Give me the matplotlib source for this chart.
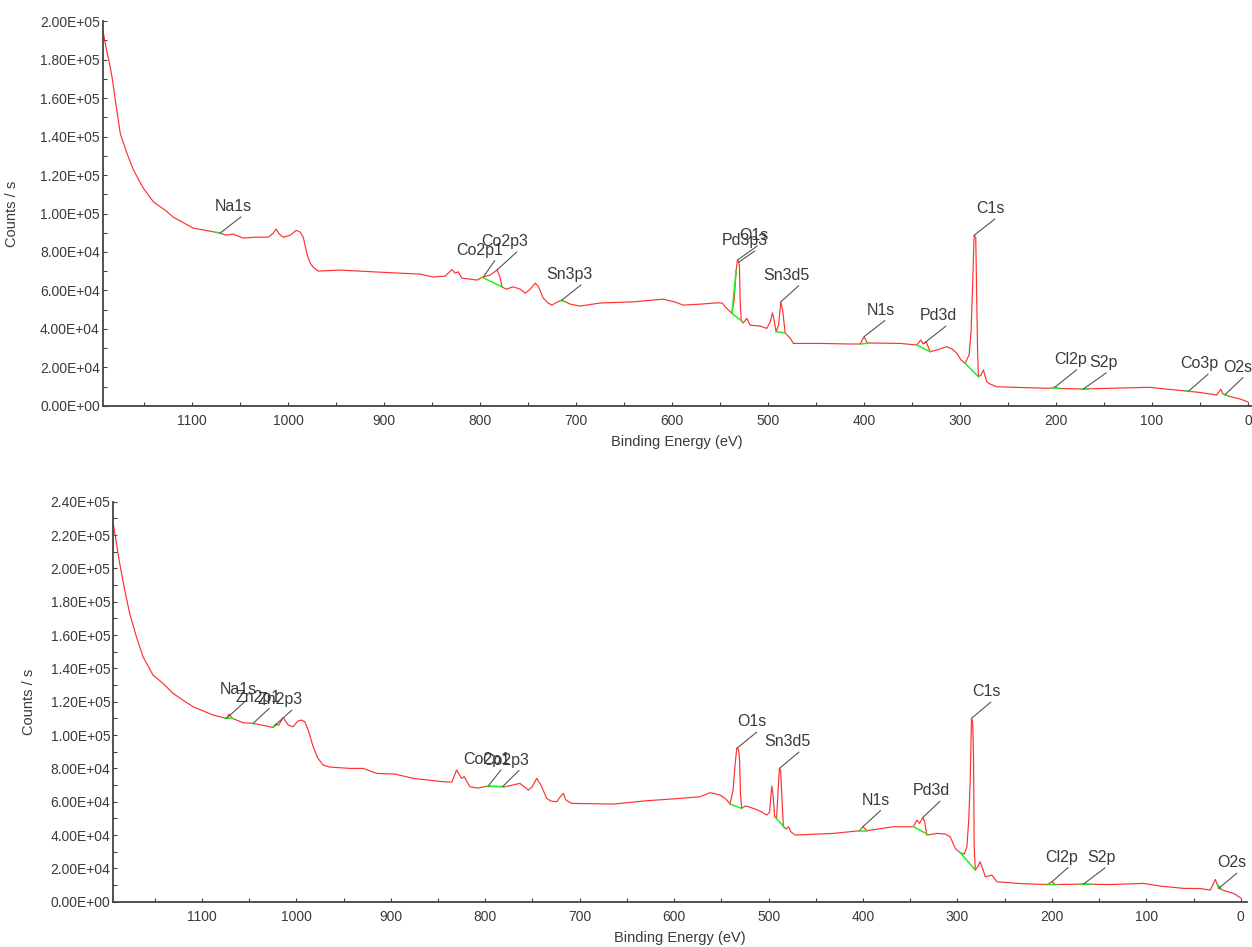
import numpy as np
import matplotlib
matplotlib.use("Agg")
import matplotlib.pyplot as plt
from matplotlib.ticker import MultipleLocator, FuncFormatter

plt.rcParams['font.family'] = ['Liberation Sans', 'DejaVu Sans']

# ---- spectrum 1 (top) : binding energy (eV) / counts per second ----
be_top = [1193.0, 1190.6, 1187.1, 1183.6, 1180.2, 1175.0, 1168.0, 1161.2, 1150.8, 1140.4,
          1128.2, 1119.8, 1099.0, 1081.3, 1070.9, 1064.6, 1057.3, 1046.9, 1034.4, 1020.9,
          1015.7, 1012.5, 1009.4, 1005.2, 997.9, 991.7, 987.5, 984.4, 980.2, 977.1,
          974.0, 968.8, 945.9, 904.2, 862.5, 849.0, 836.5, 829.5, 826.1, 823.0,
          819.1, 810.4, 803.5, 796.6, 789.6, 782.6, 779.7, 777.1, 772.9, 765.6,
          758.4, 753.1, 747.9, 742.7, 739.6, 734.4, 729.2, 725.3, 719.8, 714.9,
          706.2, 695.9, 675.0, 640.6, 609.4, 596.9, 588.6, 570.9, 553.1, 547.9,
          544.8, 537.8, 535.4, 533.3, 532.0, 530.7, 529.9, 529.2, 528.1, 526.0,
          522.2, 518.8, 508.4, 501.4, 497.9, 495.5, 493.8, 491.7, 489.1, 486.8,
          484.9, 482.3, 477.1, 473.7, 445.9, 414.6, 404.2, 400.0, 396.9, 391.7,
          362.5, 345.1, 341.0, 338.5, 335.4, 331.3, 324.3, 313.9, 308.3, 303.4,
          299.0, 294.8, 290.6, 288.5, 286.8, 285.4, 283.7, 282.6, 281.8, 280.9,
          278.1, 275.7, 274.0, 272.2, 268.8, 261.8, 237.5, 206.3, 201.0, 197.9,
          171.6, 133.3, 102.1, 86.5, 67.4, 50.0, 32.6, 28.4, 26.0, 20.8,
          8.3, 0.0]
cps_top = [195000, 188000, 180000, 171000, 159000, 141500, 131200, 122500, 113000, 106000,
           101700, 98100, 92400, 90800, 89800, 88700, 89300, 87200, 87700, 87700,
           89800, 91900, 89300, 87700, 88700, 91300, 90300, 87700, 78400, 74200,
           72100, 70100, 70600, 69500, 68500, 67000, 67500, 70900, 69000, 69700,
           66400, 65900, 65400, 67100, 68000, 70600, 67500, 61800, 60700, 61900,
           60700, 58600, 60700, 63800, 62300, 56100, 53500, 52400, 54000, 55000,
           52900, 51900, 53500, 54100, 55500, 54000, 52400, 52900, 53600, 53500,
           51500, 48100, 55000, 70600, 75800, 74700, 72700, 55000, 44600, 43100,
           45500, 42000, 41500, 40300, 43600, 48400, 44600, 38600, 42000, 54100,
           49800, 37900, 35300, 32500, 32500, 32200, 32200, 36000, 32700, 32700,
           32500, 31700, 34300, 32200, 33400, 28200, 29100, 30800, 29600, 27400,
           23900, 22200, 26500, 39400, 65400, 88700, 87700, 55000, 29000, 15200,
           16100, 18700, 15600, 12600, 11400, 10000, 9600, 9190, 9860, 9080,
           8820, 9340, 9700, 8820, 7940, 7000, 5710, 8670, 6230, 5190,
           3630, 2080]

top_labels = ["Na1s", "Co2p1", "Co2p3", "Sn3p3", "O1s", "Pd3p3", "Sn3d5",
              "N1s", "Pd3d", "C1s", "Cl2p", "S2p", "Co3p", "O2s"]
top_label_be = [1071.0, 796.6, 782.6, 714.9, 532.0, 530.7, 486.8,
                400.0, 337.5, 285.4, 201.0, 171.6, 62.0, 24.0]
top_green = [(1075, 1069), (797.7, 777.1), (716, 711), (537.8, 533.3), (538, 527.4),
             (491.7, 482.3), (404.2, 394), (345.1, 331.3), (294.8, 280.9),
             (204.5, 196), (173.5, 166.5), (65.6, 60.4), (25.7, 20.5)]

# ---- spectrum 2 (bottom) ----
be_bot = [1194.1, 1191.0, 1187.0, 1181.7, 1176.4, 1169.3, 1162.3, 1151.7, 1141.1, 1130.5,
          1120.2, 1109.3, 1088.1, 1073.9, 1071.2, 1067.6, 1056.3, 1045.7, 1031.5, 1024.5,
          1021.7, 1018.5, 1013.9, 1008.6, 1003.4, 998.4, 994.5, 991.0, 986.7, 982.2,
          977.2, 971.6, 964.5, 943.3, 929.2, 915.0, 895.6, 876.2, 844.5, 835.3,
          830.3, 825.0, 822.2, 816.2, 807.7, 796.8, 779.1, 763.2, 754.4, 750.5,
          745.5, 741.0, 734.9, 730.4, 724.3, 720.8, 717.3, 714.5, 708.5, 664.4,
          629.0, 593.7, 572.5, 562.0, 558.5, 551.4, 545.0, 540.8, 537.6, 535.5,
          533.7, 531.8, 530.7, 529.7, 528.4, 524.9, 521.4, 516.1, 509.0, 501.9,
          498.9, 496.6, 495.2, 493.6, 491.5, 489.9, 488.5, 487.3, 485.7, 484.3,
          481.4, 479.0, 476.1, 471.9, 431.3, 403.8, 400.2, 396.0, 367.8, 346.6,
          343.0, 340.2, 336.6, 334.7, 332.4, 321.8, 313.0, 307.7, 302.4, 297.1,
          292.9, 290.0, 288.1, 286.5, 285.2, 283.9, 283.0, 282.3, 281.2, 278.1,
          276.0, 272.8, 270.6, 267.5, 263.6, 258.3, 233.6, 205.3, 200.0, 196.5,
          166.5, 138.2, 103.0, 85.3, 60.6, 42.9, 32.3, 27.0, 23.5, 16.4,
          7.6, 0.0]
cps_bot = [228000, 217000, 203000, 187000, 173000, 159000, 147000, 136000, 131000, 125000,
           121000, 117000, 112000, 110000, 112600, 110000, 107400, 107000, 105400, 104500,
           106600, 106000, 110600, 106000, 105000, 108400, 109000, 108000, 101800, 93000,
           86200, 82000, 80800, 80000, 80000, 77000, 76600, 74000, 72000, 71800,
           79000, 74000, 75000, 69000, 68200, 69400, 69000, 71000, 67000, 68800,
           74000, 70000, 62000, 60400, 60000, 62800, 65000, 61000, 59000, 58600,
           60600, 62000, 63000, 65400, 65000, 64000, 61600, 58600, 67000, 82000,
           92000, 91600, 85000, 64000, 56000, 57400, 57000, 56000, 54400, 52000,
           53800, 69400, 64000, 51000, 50000, 67000, 80000, 79000, 61000, 45000,
           43600, 45000, 41800, 40000, 41000, 42600, 45000, 42600, 45000, 45000,
           49000, 47000, 50600, 47800, 40000, 41000, 40600, 39000, 32000, 29400,
           28600, 33000, 49000, 73000, 110000, 108000, 85000, 33000, 19000, 21400,
           24000, 19000, 15000, 15400, 16000, 12000, 10900, 10300, 12000, 10300,
           10600, 10300, 11000, 9400, 8000, 7900, 7000, 13400, 8000, 6400,
           5000, 2200]

bot_labels = ["Na1s", "Zn2p1", "Zn2p3", "Co2p1", "Co2p3", "O1s", "Sn3d5",
              "N1s", "Pd3d", "C1s", "Cl2p", "S2p", "O2s"]
bot_label_be = [1073.9, 1045.7, 1022.8, 796.8, 781.6, 533.7, 488.5,
                400.2, 336.6, 285.2, 200.0, 166.5, 23.5]
bot_green = [(1075.7, 1067.6), (1047.5, 1044), (1026, 1020), (798.5, 779),
             (540.8, 528.4), (493, 482.5), (403.8, 396), (346.6, 330.7),
             (297, 281.2), (205.3, 194.7), (170, 159.4), (25.2, 20)]

# label offsets in pixels: (text right edge, baseline height above point)
top_offsets = [(32, 22), (20, 22), (31, 24), (31, 21), (31, 20), (29, 17), (29, 22),
               (31, 22), (33, 23), (31, 22), (32, 23), (34, 22), (30, 23), (27, 23)]
bot_offsets = [(30, 24), (27, 21), (28, 21), (22, 22), (27, 22), (30, 22), (31, 22),
               (27, 22), (27, 22), (29, 22), (26, 20), (32, 22), (28, 21)]

TXT = '#3a3a3a'
AX = '#444444'


def draw_panel(ax, be, cps, labels, label_be, offsets, green, ymax, xlim):
    be = np.asarray(be)
    cps = np.asarray(cps)
    ax.plot(be, cps, color='#ff3030', lw=0.85, zorder=2)
    # interpolation needs increasing x
    bx = be[::-1]
    by = cps[::-1]
    for b0, b1 in green:
        ax.plot([b0, b1], [np.interp(b0, bx, by), np.interp(b1, bx, by)],
                color='#22ee22', lw=1.1, zorder=3)
    for name, b, (dx, dy) in zip(labels, label_be, offsets):
        y = np.interp(b, bx, by)
        ax.annotate(name, xy=(b, y), xytext=(dx, dy), textcoords='offset pixels',
                    ha='right', va='baseline', fontsize=11.5, color=TXT, zorder=4,
                    arrowprops=dict(arrowstyle='-', color='#555555', lw=0.8,
                                    shrinkA=0, shrinkB=0, relpos=(0.9, 0.2)))
    ax.set_xlim(*xlim)
    ax.set_ylim(0, ymax)
    ax.xaxis.set_major_locator(MultipleLocator(100))
    ax.xaxis.set_minor_locator(MultipleLocator(50))
    ax.yaxis.set_major_locator(MultipleLocator(20000))
    ax.yaxis.set_minor_locator(MultipleLocator(10000))
    ax.yaxis.set_major_formatter(FuncFormatter(lambda v, p: '%.2E' % v))
    for s in ['top', 'right']:
        ax.spines[s].set_visible(False)
    for s in ['left', 'bottom']:
        ax.spines[s].set_color(AX)
        ax.spines[s].set_linewidth(1.3)
    ax.tick_params(which='both', direction='in', length=3, width=0.8, color=AX,
                   labelcolor=TXT, labelsize=10)
    ax.tick_params(axis='y', pad=2)
    ax.tick_params(axis='x', pad=6)
    ax.set_xlabel('Binding Energy (eV)', fontsize=10.5, color=TXT, labelpad=5)
    ax.set_ylabel('Counts / s', fontsize=10.5, color=TXT)


fig = plt.figure(figsize=(12.52, 9.47), dpi=100)
ax1 = fig.add_axes([0.0819, 0.5713, 0.918, 0.4065])
ax2 = fig.add_axes([0.0903, 0.0478, 0.9057, 0.4224])

draw_panel(ax1, be_top, cps_top, top_labels, top_label_be, top_offsets, top_green,
           200000, (1193.5, -4))
draw_panel(ax2, be_bot, cps_bot, bot_labels, bot_label_be, bot_offsets, bot_green,
           240000, (1194, -6.5))
ax1.yaxis.set_label_coords(-0.073, 0.5)
ax2.yaxis.set_label_coords(-0.068, 0.5)

fig.savefig('out.png', dpi=100)
